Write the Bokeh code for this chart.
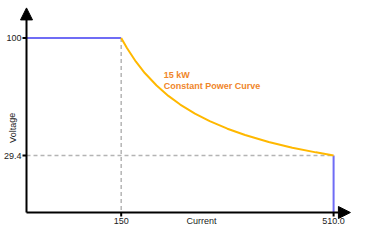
from bokeh.plotting import figure
from bokeh.models import Range1d, Arrow, NormalHead, Label
from bokeh.embed import file_html
from bokeh.resources import INLINE

# Data
current = [150, 160, 175, 190, 210, 230, 250, 275, 300, 330, 360, 400, 440, 480, 510]
voltage = [100, 93.8, 85.7, 78.9, 71.4, 65.2, 60.0, 54.5, 50.0, 45.5, 41.7, 37.5, 34.1, 31.3, 29.4]
x_ticks = [150, 510]
x_tick_labels = ["150", "510.0"]
y_ticks = [29.4, 100]
y_tick_labels = ["29.4", "100"]
flat_x = [-10.5, 150]
flat_y = [100, 100]
drop_x = [510, 510]
drop_y = [29.4, -4.8]

X0, XEND = -10.5, 538.5    # axis origin / arrow tip (data)
Y0, YEND = -4.8, 118
W, H = 352, 225
XPX = 0.59                 # pixels per data unit (x)
YPX = 1.666                # pixels per data unit (y)
LEFT, BOTTOM = 26, 13      # pixels left of / below the axes

p = figure(width=W, height=H, output_backend="svg", toolbar_location=None,
           x_range=Range1d(X0 - LEFT / XPX, X0 + (W - LEFT) / XPX),
           y_range=Range1d(Y0 - BOTTOM / YPX, Y0 + (H - BOTTOM) / YPX),
           min_border=0)
p.axis.visible = False
p.outline_line_color = None
p.grid.visible = False
p.background_fill_color = "white"

FONT = "Liberation Sans"
TXT = "#222222"

# dashed guide lines
p.line([150, 150], [100, Y0], line_color="#b4b4b4", line_width=1.5, line_dash="4 3")
p.line([X0, 510], [29.4, 29.4], line_color="#b4b4b4", line_width=1.5, line_dash="4 3")

# blue segments
p.line(flat_x, flat_y, line_color="#6f6cf5", line_width=2)
p.line(drop_x, drop_y, line_color="#6f6cf5", line_width=2)

# constant power curve
p.line(current, voltage, line_color="#ffb800", line_width=2)

# tick marks
p.segment(x0=[X0 - 4 / XPX] * len(y_ticks), y0=y_ticks, x1=[X0] * len(y_ticks), y1=y_ticks,
          line_color="black", line_width=2)
p.segment(x0=x_ticks, y0=[Y0 - 4 / YPX] * len(x_ticks), x1=x_ticks, y1=[Y0] * len(x_ticks),
          line_color="black", line_width=2)

# axis arrows
p.add_layout(Arrow(end=NormalHead(size=12, fill_color="black", line_color="black", line_width=1),
                   x_start=X0, y_start=Y0, x_end=XEND, y_end=Y0,
                   line_color="black", line_width=2))
p.add_layout(Arrow(end=NormalHead(size=12, fill_color="black", line_color="black", line_width=1),
                   x_start=X0, y_start=Y0, x_end=X0, y_end=YEND,
                   line_color="black", line_width=2))

# tick labels
for t, lab in zip(y_ticks, y_tick_labels):
    p.add_layout(Label(x=X0, x_offset=-5, y=t, text=lab, text_align="right",
                       text_baseline="middle", text_font=FONT, text_font_size="9px",
                       text_color=TXT))
for t, lab in zip(x_ticks, x_tick_labels):
    p.add_layout(Label(x=t, y=Y0, y_offset=-8, text=lab, text_align="center",
                       text_baseline="middle", text_font=FONT, text_font_size="9px",
                       text_color=TXT))

# axis titles
p.add_layout(Label(x=286, y=Y0, y_offset=-8, text="Current", text_align="center",
                   text_baseline="middle", text_font=FONT, text_font_size="9px",
                   text_color=TXT))
p.add_layout(Label(x=X0, x_offset=-14, y=46, text="Voltage", angle=1.5708,
                   text_align="center", text_baseline="middle", text_font=FONT,
                   text_font_size="9px", text_color=TXT))

# annotation
p.add_layout(Label(x=222, y=77.6, text="15 kW", text_baseline="middle",
                   text_font=FONT, text_font_size="9px",
                   text_font_style="bold", text_color="#f0862a"))
p.add_layout(Label(x=222, y=77.6, y_offset=-11, text="Constant Power Curve", text_baseline="middle",
                   text_font=FONT, text_font_size="9px",
                   text_font_style="bold", text_color="#f0862a"))

open("out.html", "w").write(file_html(p, INLINE))
